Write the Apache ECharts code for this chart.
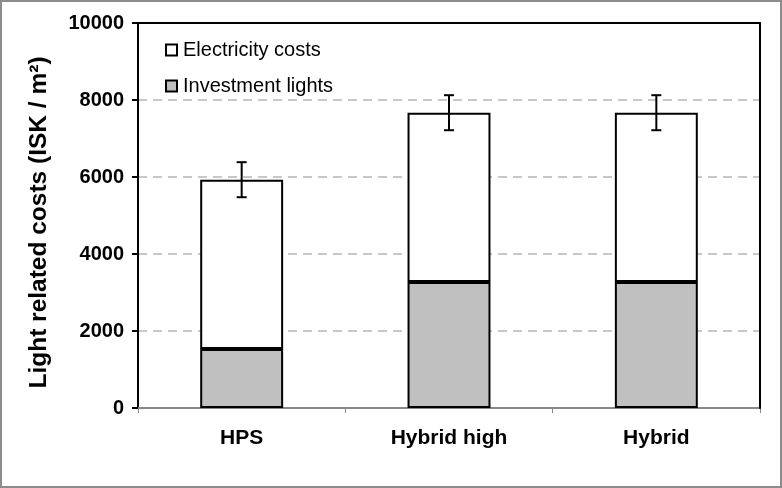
<!DOCTYPE html>
<html>
<head>
<meta charset="utf-8">
<script src="https://cdn.jsdelivr.net/npm/echarts@6/dist/echarts.min.js"></script>
<style>
html,body{margin:0;padding:0;background:#fff;}
#wrap{position:absolute;left:0;top:0;width:778px;height:484px;border:2px solid #8c8c8c;}
#c{width:782px;height:488px;position:absolute;left:-2px;top:-2px;}
</style>
</head>
<body>
<div id="wrap"><div id="c"></div></div>
<script>
var categories = ['HPS', 'Hybrid high', 'Hybrid'];
var investment = [1530, 3270, 3270];
var electricity = [4400, 4400, 4400];
var totalErr = [455, 455, 455];
var yTicks = [0, 2000, 4000, 6000, 8000, 10000];

var totals = categories.map(function (c, i) { return investment[i] + electricity[i]; });
var errData = categories.map(function (c, i) { return [i, totals[i] - totalErr[i], totals[i] + totalErr[i]]; });

var chart = echarts.init(document.getElementById('c'));
var font = 'Liberation Sans, Arial, sans-serif';
chart.setOption({
  animation: false,
  grid: { left: 138, right: 22, top: 23, bottom: 80 },
  legend: {
    orient: 'vertical', left: 160, top: 35, itemWidth: 11, itemHeight: 11, itemGap: 16,
    icon: 'rect',
    data: ['Electricity costs', 'Investment lights'],
    textStyle: { fontFamily: font, fontSize: 20, color: '#000', padding: [0, 0, 0, 1] }
  },
  xAxis: [{
    type: 'category', data: categories,
    axisLine: { lineStyle: { color: '#888', width: 2 } },
    axisTick: { show: true, length: 5, lineStyle: { color: '#888' } },
    axisLabel: { fontFamily: font, fontSize: 21, fontWeight: 'bold', color: '#000', margin: 20 }
  }, {
    type: 'category', data: categories, position: 'top', z: 5,
    axisLine: { onZero: false, lineStyle: { color: '#000', width: 2 } },
    axisTick: { show: false }, axisLabel: { show: false }
  }],
  yAxis: [{
    type: 'value', min: 0, max: 10000, interval: 2000,
    name: 'Light related costs (ISK / m²)', nameLocation: 'middle', nameGap: 86,
    nameTextStyle: { fontFamily: font, fontSize: 24.5, fontWeight: 'bold', color: '#000', padding: [0, 14, 0, 0] },
    axisLine: { show: true, lineStyle: { color: '#000', width: 2 } },
    axisTick: { show: true, length: 6, lineStyle: { color: '#000', width: 2 } },
    axisLabel: { fontFamily: font, fontSize: 20, fontWeight: 'bold', color: '#000', margin: 14,
      formatter: function (v) { return yTicks.indexOf(v) >= 0 ? String(v) : ''; } },
    splitLine: { show: true, lineStyle: { color: '#c8c8c8', type: [9, 6], width: 2 } }
  }, {
    type: 'value', min: 0, max: 10000, interval: 2000, position: 'right', z: 5,
    axisLine: { show: true, onZero: false, lineStyle: { color: '#000', width: 2 } },
    axisTick: { show: false }, axisLabel: { show: false }, splitLine: { show: false }
  }],
  series: [
    { name: 'Investment lights', type: 'bar', stack: 't', data: investment, barWidth: '40%',
      itemStyle: { color: '#c0c0c0', borderColor: '#000', borderWidth: 2 } },
    { name: 'Electricity costs', type: 'bar', stack: 't', data: electricity, barWidth: '40%',
      itemStyle: { color: '#fff', borderColor: '#000', borderWidth: 2 } },
    { name: 'err', type: 'custom', data: errData, z: 10,
      renderItem: function (params, api) {
        var x = api.value(0);
        var lo = api.coord([x, api.value(1)]);
        var hi = api.coord([x, api.value(2)]);
        var w = 5;
        var st = { stroke: '#000', lineWidth: 2 };
        return { type: 'group', children: [
          { type: 'line', shape: { x1: lo[0], y1: lo[1], x2: hi[0], y2: hi[1] }, style: st },
          { type: 'line', shape: { x1: lo[0] - w, y1: lo[1], x2: lo[0] + w, y2: lo[1] }, style: st },
          { type: 'line', shape: { x1: hi[0] - w, y1: hi[1], x2: hi[0] + w, y2: hi[1] }, style: st }
        ]};
      }
    }
  ]
});
</script>
</body>
</html>
